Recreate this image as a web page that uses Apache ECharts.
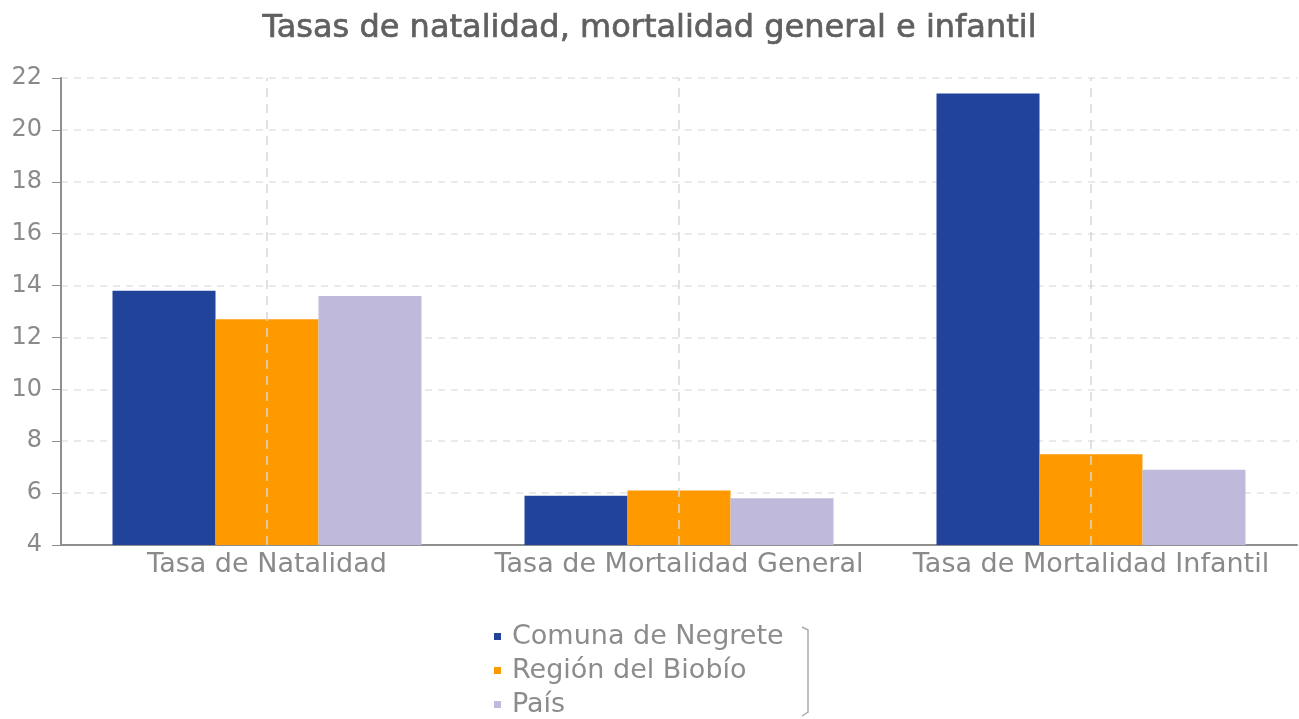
<!DOCTYPE html>
<html>
<head>
<meta charset="utf-8">
<script src="https://cdn.jsdelivr.net/npm/echarts@6/dist/echarts.min.js"></script>
<style>
  html, body { margin: 0; padding: 0; background: #fff; }
  #chart { width: 1299px; height: 719px; }
</style>
</head>
<body>
<div id="chart"></div>
<script>
// Datos del gráfico
const categories = ["Tasa de Natalidad", "Tasa de Mortalidad General", "Tasa de Mortalidad Infantil"];
const seriesNames = ["Comuna de Negrete", "Región del Biobío", "País"];
const negrete = [13.8, 5.9, 21.4];
const biobio = [12.7, 6.1, 7.5];
const pais = [13.6, 5.8, 6.9];
const colors = ["#21439a", "#ff9900", "#bfbadb"];

const chart = echarts.init(document.getElementById("chart"));
const font = "DejaVu Sans, Verdana, sans-serif";

function makeSeries(name, data, color) {
  return {
    name: name,
    type: "bar",
    data: data,
    barGap: "0%",
    barCategoryGap: "25%",
    z: 3,
    itemStyle: { color: color },
  };
}

let option = {
  animation: false,
  textStyle: { fontFamily: font },
  title: {
    text: "Tasas de natalidad, mortalidad general e infantil",
    left: "center",
    top: 8,
    textStyle: {
      fontFamily: font,
      fontSize: 32,
      fontWeight: "normal",
      color: "#606060",
      textBorderColor: "#606060",
      textBorderWidth: 0.7,
    },
  },
  grid: { left: 61, right: 2, top: 78, bottom: 174 },
  legend: {
    orient: "vertical",
    left: 494,
    top: 623,
    padding: 0,
    icon: "rect",
    itemWidth: 7,
    itemHeight: 7,
    itemGap: 7,
    data: seriesNames,
    textStyle: { fontFamily: font, fontSize: 27, color: "#8c8c8c", padding: [0, 0, 0, 6] },
  },
  xAxis: {
    type: "category",
    data: categories,
    axisLine: { lineStyle: { color: "#8f8f8f", width: 2 } },
    axisTick: { alignWithLabel: true, length: 6, lineStyle: { color: "#8f8f8f" } },
    axisLabel: { interval: 0, fontFamily: font, fontSize: 27, color: "#8a8a8a", margin: 6 },
    splitLine: { show: false },
  },
  yAxis: {
    type: "value",
    min: 4,
    max: 22,
    interval: 2,
    axisLine: { show: true, lineStyle: { color: "#8f8f8f", width: 2 } },
    axisTick: { show: true, length: 9, lineStyle: { color: "#8f8f8f" } },
    axisLabel: { fontFamily: font, fontSize: 24, color: "#8a8a8a", margin: 19 },
    splitLine: { lineStyle: { color: "#e4e4e4", type: [7, 6], width: 1.5 } },
  },
  graphic: [
    {
      type: "polyline",
      shape: { points: [[802, 627], [808, 630], [808, 712], [802, 716]] },
      style: { stroke: "#aaaaaa", lineWidth: 1.5, fill: null },
    },
  ],
  series: [
    makeSeries(seriesNames[0], negrete, colors[0]),
    makeSeries(seriesNames[1], biobio, colors[1]),
    makeSeries(seriesNames[2], pais, colors[2]),
    {
      // vertical dashed lines at category centres, behind the bars
      name: "guias",
      type: "line",
      data: [],
      z: 1,
      markLine: {
        silent: true,
        symbol: "none",
        label: { show: false },
        lineStyle: { color: "#d8d8d8", type: [9, 7], width: 1.5 },
        data: categories.map((c) => ({ xAxis: c })),
      },
    },
  ],
};

chart.setOption(option);
</script>
</body>
</html>
